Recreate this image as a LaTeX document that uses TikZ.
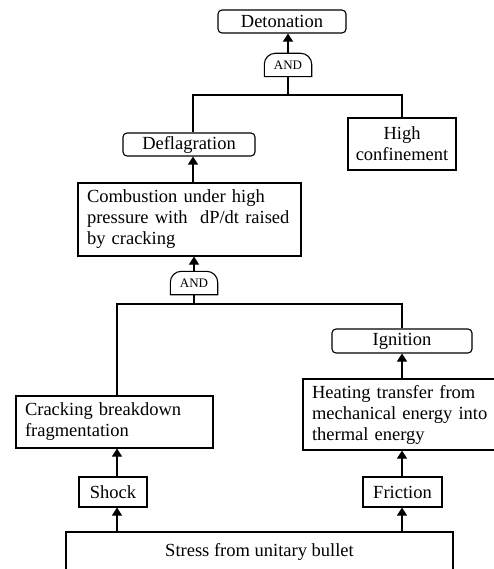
\documentclass[tikz,border=0pt]{standalone}
\usepackage{fontspec}
\setmainfont{Liberation Serif}
\usetikzlibrary{arrows.meta}
\tikzset{
  box/.style={draw, line width=1.1pt, inner sep=0pt, font=\fontsize{18.5}{21}\selectfont},
  event/.style={box, rounded corners=4pt},
  txtbox/.style={box, align=left, inner xsep=9pt, text width=#1},
  gatelbl/.style={inner sep=0pt, minimum width=47pt, minimum height=23pt, font=\fontsize{13}{14}\selectfont},
  gateline/.style={line width=1.1pt},
  link/.style={line width=1.1pt},
  up/.style={link, -{Triangle[length=8pt,width=10pt]}}
}
\begin{document}
\begin{tikzpicture}[x=1pt,y=-1pt]
  \useasboundingbox (0,0) rectangle (494,569);
  \clip (0,0) rectangle (494,569);
  % events
  \node[event, minimum width=128pt, minimum height=23pt] (det) at (282,21.5) {Detonation};
  \node[event, minimum width=132pt, minimum height=23pt] (defl) at (189,144.5) {Deflagration};
  \node[box, align=center, minimum width=108pt, minimum height=52pt] (conf) at (402,144) {High\\confinement};
  \node[txtbox=205pt, minimum height=73pt] (comb) at (189.5,219.5) {Combustion under high\\pressure with~ dP/dt raised\\by cracking};
  \node[event, minimum width=140pt, minimum height=24pt] (ign) at (402,341) {Ignition};
  \node[txtbox=179pt, minimum height=52pt] (crack) at (114.5,422) {Cracking breakdown\\fragmentation};
  \node[txtbox=179pt, minimum height=71pt] (heat) at (401.5,414.5) {Heating transfer from\\mechanical energy into\\thermal energy};
  \node[box, minimum width=68pt, minimum height=30pt] (shock) at (113,492) {Shock};
  \node[box, minimum width=79pt, minimum height=30pt] (fric) at (402.5,492) {Friction};
  \node[box, minimum width=387pt, minimum height=40pt] (stress) at (259.5,552) {Stress from unitary bullet};
  % gates
  \node[gatelbl] (g1) at (288,65) {AND};
  \node[gatelbl] (g2) at (194,283) {AND};
  \foreach \g in {g1,g2}
    \draw[gateline] (\g.south west) [rounded corners=11pt] -- (\g.north west) -- (\g.north east) [sharp corners] -- (\g.south east) -- cycle;
  % joints
  \coordinate (c1) at (193,95);
  \coordinate (c2) at (402,95);
  \coordinate (c3) at (117,304);
  \coordinate (c4) at (402,304);
  % wires
  \draw[up] (g1.north) -- (g1.north |- det.south);
  \draw[link] (g1.south) -- (g1.south |- c1);
  \draw[link] (c1 |- defl.north) -- (c1) -- (c2) -- (c2 |- conf.north);
  \draw[up] (c1 |- comb.north) -- (c1 |- defl.south);
  \draw[up] (g2.north) -- (g2.north |- comb.south);
  \draw[link] (g2.south) -- (g2.south |- c3);
  \draw[link] (c3 |- crack.north) -- (c3) -- (c4) -- (c4 |- ign.north);
  \draw[up] (c4 |- heat.north) -- (c4 |- ign.south);
  \draw[up] (c3 |- shock.north) -- (c3 |- crack.south);
  \draw[up] (c3 |- stress.north) -- (c3 |- shock.south);
  \draw[up] (c4 |- fric.north) -- (c4 |- heat.south);
  \draw[up] (c4 |- stress.north) -- (c4 |- fric.south);
\end{tikzpicture}
\end{document}
